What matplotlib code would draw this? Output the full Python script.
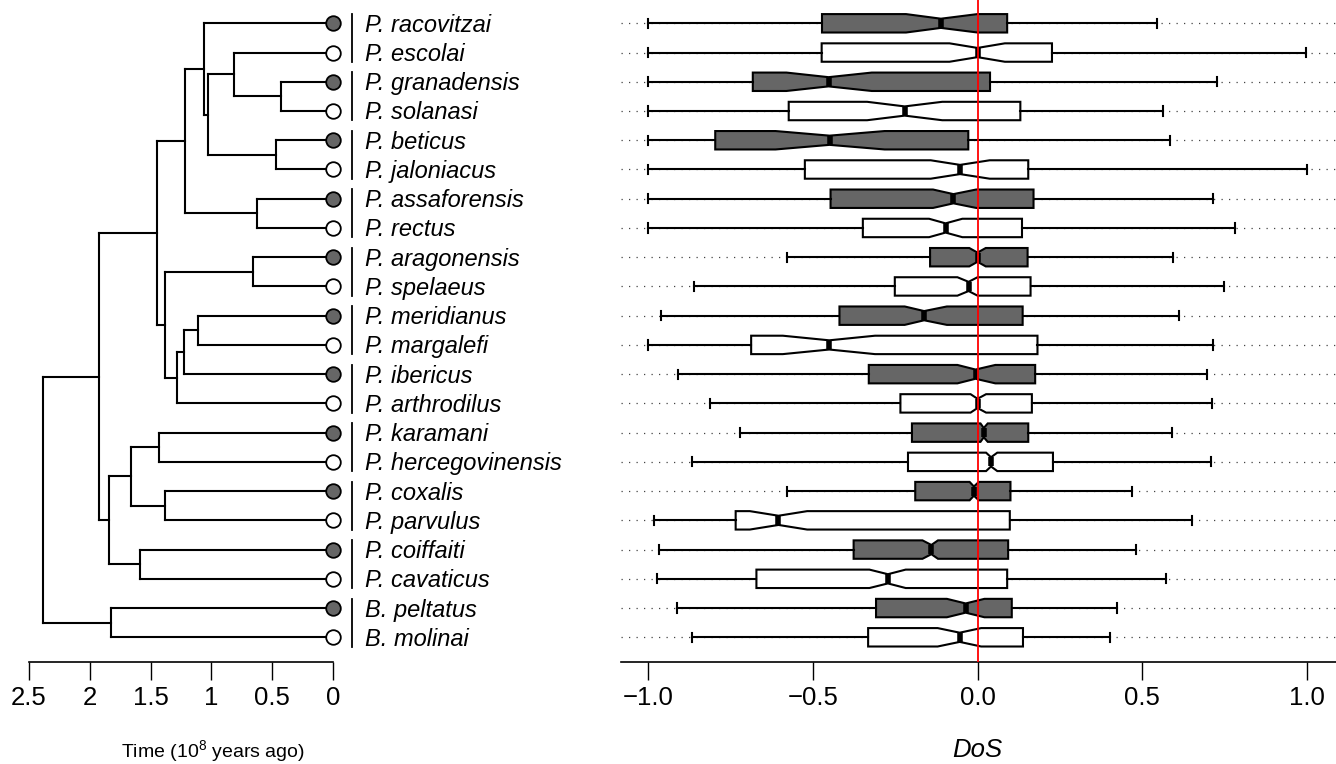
import matplotlib
matplotlib.use("Agg")
import matplotlib.pyplot as plt

plt.rcParams['font.family'] = ['Liberation Sans', 'DejaVu Sans']
plt.rcParams['mathtext.fontset'] = 'custom'
plt.rcParams['mathtext.rm'] = 'Liberation Sans'
plt.rcParams['mathtext.it'] = 'Liberation Sans:italic'

# species, top to bottom
species = ["P. racovitzai", "P. escolai", "P. granadensis", "P. solanasi",
           "P. beticus", "P. jaloniacus", "P. assaforensis", "P. rectus",
           "P. aragonensis", "P. spelaeus", "P. meridianus", "P. margalefi",
           "P. ibericus", "P. arthrodilus", "P. karamani", "P. hercegovinensis",
           "P. coxalis", "P. parvulus", "P. coiffaiti", "P. cavaticus",
           "B. peltatus", "B. molinai"]
filled = [True, False] * 11

# tree: internal nodes (children listed before parents), ages in 10^8 years
node_ids = ["E", "C", "D", "B", "A", "G", "F", "J", "M", "L", "K", "I", "H",
            "R", "S", "P", "Q", "O", "N", "T", "root"]
node_left = ["P. granadensis", "P. escolai", "P. beticus", "C", "P. racovitzai",
             "P. assaforensis", "A", "P. aragonensis", "P. meridianus", "M", "L",
             "J", "F", "P. karamani", "P. coxalis", "R", "P. coiffaiti", "P", "H",
             "B. peltatus", "N"]
node_right = ["P. solanasi", "E", "P. jaloniacus", "D", "B", "P. rectus", "G",
              "P. spelaeus", "P. margalefi", "P. ibericus", "P. arthrodilus", "K",
              "I", "P. hercegovinensis", "P. parvulus", "S", "P. cavaticus", "Q",
              "O", "B. molinai", "T"]
node_age = [0.430, 0.817, 0.466, 1.031, 1.061, 0.628, 1.214, 0.655, 1.113,
            1.228, 1.280, 1.384, 1.447, 1.434, 1.384, 1.664, 1.587, 1.839,
            1.922, 1.826, 2.388]

# DoS box statistics
dos_lo = [-1.0, -1.0, -1.0, -1.0, -1.0, -1.0, -1.0, -1.0, -0.578, -0.859, -0.962,
          -1.0, -0.909, -0.813, -0.721, -0.868, -0.578, -0.983, -0.966, -0.974,
          -0.912, -0.866]
dos_q1 = [-0.472, -0.473, -0.682, -0.573, -0.796, -0.524, -0.446, -0.348, -0.144,
          -0.251, -0.419, -0.687, -0.330, -0.234, -0.199, -0.211, -0.189, -0.734,
          -0.376, -0.671, -0.308, -0.332]
dos_med = [-0.111, 0.0, -0.452, -0.221, -0.449, -0.053, -0.073, -0.097, 0.0,
           -0.027, -0.162, -0.450, -0.006, 0.0, 0.019, 0.041, -0.011, -0.604,
           -0.140, -0.272, -0.036, -0.054]
dos_q3 = [0.090, 0.226, 0.038, 0.130, -0.028, 0.154, 0.170, 0.135, 0.152, 0.161,
          0.137, 0.182, 0.175, 0.165, 0.154, 0.229, 0.100, 0.098, 0.093, 0.090,
          0.104, 0.138]
dos_hi = [0.544, 0.997, 0.728, 0.563, 0.585, 1.0, 0.714, 0.781, 0.593, 0.748,
          0.613, 0.715, 0.695, 0.711, 0.590, 0.708, 0.470, 0.652, 0.480, 0.573,
          0.423, 0.402]
notch_lo = [-0.217, -0.085, -0.580, -0.335, -0.613, -0.142, -0.135, -0.147,
            -0.025, -0.061, -0.221, -0.591, -0.061, -0.021, 0.009, 0.026, -0.024,
            -0.691, -0.167, -0.328, -0.093, -0.121]
notch_hi = [0.0, 0.083, -0.321, -0.107, -0.282, 0.037, -0.004, -0.046, 0.025,
            0.0, -0.093, -0.311, 0.054, 0.026, 0.031, 0.060, 0.004, -0.517,
            -0.120, -0.218, 0.021, 0.011]

time_ticks = [2.5, 2, 1.5, 1, 0.5, 0]
time_labels = ["2.5", "2", "1.5", "1", "0.5", "0"]
dos_ticks = [-1.0, -0.5, 0.0, 0.5, 1.0]

DARK = "#666666"
ylim = (22.845, 0.203)


def main():
    fig = plt.figure(figsize=(13.36, 7.64), dpi=100)
    ax_t = fig.add_axes([29 / 1336, 1 - 662 / 764, 304 / 1336, 662 / 764])
    ax_b = fig.add_axes([621 / 1336, 1 - 662 / 764, 715 / 1336, 662 / 764])

    # ---- tree ----
    ypos = {name: i + 1 for i, name in enumerate(species)}
    xpos = {name: 0.0 for name in species}
    for nid, l, r, age in zip(node_ids, node_left, node_right, node_age):
        ypos[nid] = (ypos[l] + ypos[r]) / 2
        xpos[nid] = age
        ax_t.plot([age, age], [ypos[l], ypos[r]], color="black", lw=1.5,
                  solid_capstyle="projecting", clip_on=False)
        for c in (l, r):
            ax_t.plot([xpos[c], age], [ypos[c], ypos[c]], color="black", lw=1.5,
                      solid_capstyle="projecting", clip_on=False)

    for i, name in enumerate(species):
        y = i + 1
        ax_t.plot(0, y, "o", ms=10.5, mec="black", mew=1.3,
                  mfc=DARK if filled[i] else "white", clip_on=False, zorder=5)
        ax_t.text(-0.263, y + 0.29, name, fontsize=17, style="italic",
                  ha="left", va="baseline", clip_on=False)
    for k in range(0, 22, 2):
        ax_t.plot([-0.159, -0.159], [k + 1 - 0.32, k + 2 + 0.32], color="black",
                  lw=1.3, clip_on=False)

    ax_t.set_xlim(2.5, 0)
    ax_t.set_ylim(*ylim)
    ax_t.set_xticks(time_ticks)
    ax_t.set_xticklabels(time_labels)
    ax_t.set_yticks([])
    for s in ("top", "right", "left"):
        ax_t.spines[s].set_visible(False)
    ax_t.spines["bottom"].set_linewidth(1.2)
    ax_t.tick_params(axis="x", length=13, width=1, labelsize=18.5, pad=4)
    ax_t.patch.set_visible(False)

    # ---- DoS boxplots ----
    rows = list(range(1, 23))
    for y in rows:
        ax_b.axhline(y, color="#444444", lw=0.9, ls=(0, (1, 5)), zorder=0)

    stats = []
    for i in range(22):
        stats.append(dict(med=dos_med[i], q1=dos_q1[i], q3=dos_q3[i],
                          whislo=dos_lo[i], whishi=dos_hi[i],
                          cilo=notch_lo[i], cihi=notch_hi[i], fliers=[]))
    bp = ax_b.bxp(stats, positions=rows, widths=0.63, orientation="horizontal",
                  shownotches=True, patch_artist=True, showfliers=False,
                  boxprops=dict(edgecolor="black", lw=1.5),
                  whiskerprops=dict(color="black", lw=1.5),
                  capprops=dict(color="black", lw=1.5),
                  medianprops=dict(color="black", lw=4, solid_capstyle="butt"))
    for i, box in enumerate(bp["boxes"]):
        box.set_facecolor(DARK if filled[i] else "white")

    ax_b.axvline(0, color="red", lw=1.3, zorder=10)

    ax_b.set_xlim(-1.082, 1.088)
    ax_b.set_ylim(*ylim)
    ax_b.set_xticks(dos_ticks)
    ax_b.set_xticklabels([f"{t:.1f}".replace("-", "\u2212") for t in dos_ticks])
    ax_b.set_yticks([])
    for s in ("top", "right", "left"):
        ax_b.spines[s].set_visible(False)
    ax_b.spines["bottom"].set_linewidth(1.2)
    ax_b.tick_params(axis="x", length=13, width=1, labelsize=18.5, pad=4)
    ax_b.patch.set_visible(False)

    fig.text(213 / 1336, 1 - 751 / 764, "Time (10$^8$ years ago)", fontsize=14,
             ha="center", va="center")
    fig.text(977 / 1336, 1 - 750 / 764, "DoS", fontsize=18.5, style="italic",
             ha="center", va="center")

    fig.savefig("out.png", dpi=100)


if __name__ == "__main__":
    main()
